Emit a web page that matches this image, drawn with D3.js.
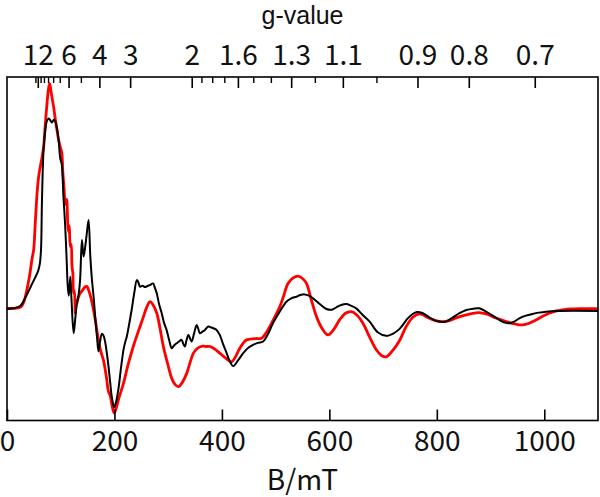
<!DOCTYPE html>
<html><head><meta charset="utf-8">
<script src="https://cdn.jsdelivr.net/npm/d3@7"></script>
<style>
html,body{margin:0;padding:0;background:#fff;}
svg{display:block;}
text{font-family:"Noto Sans CJK KR","Noto Sans",sans-serif;fill:#111;}
</style></head>
<body><svg id="chart" width="600" height="497"></svg>
<script>
// ---- data ----
const xTicks = [0, 200, 400, 600, 800, 1000];
const gMajor = [12, 6, 4, 3, 2, 1.6, 1.3, 1.1, 0.9, 0.8, 0.7];
const gMinor = [13, 11, 10, 9, 8, 7, 5, 1.9, 1.8, 1.7, 1.5, 1.4, 1.2, 1.0];
const gFactor = 687.6; // g * B (mT), microwave frequency ~9.62 GHz

const blackB = [0,15,25,36,45,51,58,61,63.3,65,68,71.3,74,77.5,80,83.7,87,90,93,96,99,102,105,108,111,113,115,117.8,120,124,127,130,133,136,139.5,142.5,145.6,148,151.8,155,158,161,164,167.4,170.3,173,176.6,179.5,182.8,186,189,192,195,199.5,203,207.5,212,216.8,220,223,228,232,237,241.6,244,247.8,252,257,262,266,272,275,278.8,283,288,292,297,302,306.6,311,316,320,325,328,331,334,337.5,341,343.8,348,353,356,359,364,368.5,374.6,379,384,390,396,402,408.8,414,421,430,439.6,448,458,467,476.8,485,495,507,520,529,538.8,546,554,562,569.6,582,594.6,605,613,622,631.6,640,650,662,675,690,706,718,730.7,745,755,763,773,786,797,805,817,830,843,855,868,879,891.7,904,916.4,925,935,944,953.6,966,978,990,1003,1028,1100];
const blackI = [0.00,0.03,0.10,0.40,0.70,0.90,1.15,1.35,1.78,3.19,4.79,5.39,5.65,5.74,5.70,5.62,5.70,5.65,5.45,5.10,4.55,4.35,3.40,2.60,1.50,0.70,0.40,0.97,0.30,-0.73,-0.30,0.17,0.40,0.87,2.08,1.58,1.88,2.20,2.68,1.60,0.90,0.40,-0.20,-0.83,-1.28,-1.00,-0.75,-0.80,-1.00,-1.35,-1.74,-2.20,-2.64,-2.96,-2.80,-2.40,-1.80,-1.23,-1.00,-0.83,-0.40,-0.03,0.50,0.87,0.82,0.67,0.70,0.66,0.70,0.72,0.77,0.65,0.47,0.15,-0.13,-0.40,-0.63,-0.95,-1.18,-1.10,-1.03,-0.98,-0.93,-1.05,-1.13,-0.95,-0.78,-0.90,-0.98,-0.75,-0.48,-0.60,-0.73,-0.68,-0.63,-0.53,-0.55,-0.58,-0.63,-0.78,-1.05,-1.33,-1.55,-1.72,-1.55,-1.33,-1.18,-1.08,-1.02,-0.98,-0.78,-0.43,-0.10,0.22,0.32,0.37,0.42,0.44,0.40,0.32,0.15,0.00,-0.02,0.05,0.12,0.15,0.10,0.02,-0.18,-0.38,-0.70,-0.81,-0.75,-0.60,-0.30,-0.15,-0.09,-0.12,-0.25,-0.35,-0.38,-0.38,-0.25,-0.12,-0.03,0.01,0.02,-0.08,-0.20,-0.33,-0.40,-0.43,-0.38,-0.28,-0.20,-0.15,-0.11,-0.08,-0.06,-0.06];

const redB = [0,15,26,32,36,42,47,49.6,53,56,59,62,65,68.2,71,74.5,77,79.3,82,84.5,86.8,90,93,96,99,102,104,106,108.5,111,113,114.6,116,117.8,119.5,121,122.5,124,125.5,127,128.5,130,133,136,140,145.6,148.8,151.8,156,161,165,170.3,175,179.6,185,189,192,196,199.5,203,208,216.8,225,235,245,254,260,266.3,272,278.8,285,291,299,306.6,313,319,326,334.5,341,347,355,365,371.6,377.8,386,396,407,418,425,432,439.6,446,452,463,473.8,481,489,498,507.8,515,523,532,541.8,550,557.4,566,576,587,597.5,608,619,630,641,651,662.5,675,687.4,697,706,718,730.7,743,755.4,767.8,777,786,798,811,823,836,854.6,867,879,892,904,917,929,945,960,972,984.6,997,1009,1022,1034,1050,1065,1100];
const redI = [0.02,0.02,0.06,0.25,0.50,1.00,1.55,1.78,2.70,3.49,4.00,4.29,4.55,4.89,5.50,6.20,6.60,6.80,6.55,6.30,6.09,5.70,5.39,5.10,4.89,4.70,4.10,3.70,3.15,3.30,2.60,2.33,2.50,1.88,1.95,1.27,1.10,0.47,0.55,-0.13,0.10,0.17,0.35,0.47,0.55,0.67,0.68,0.57,0.35,-0.03,-0.40,-0.95,-1.30,-1.55,-2.05,-2.50,-2.60,-2.95,-3.13,-3.00,-2.70,-2.24,-1.70,-1.13,-0.65,-0.23,0.05,0.22,0.12,-0.13,-0.60,-1.13,-1.65,-2.09,-2.28,-2.34,-2.22,-1.94,-1.60,-1.33,-1.18,-1.12,-1.13,-1.13,-1.20,-1.33,-1.48,-1.59,-1.45,-1.22,-1.03,-0.93,-0.91,-0.89,-0.88,-0.75,-0.53,-0.25,0.07,0.40,0.77,0.93,0.99,0.92,0.77,0.30,-0.23,-0.60,-0.78,-0.62,-0.33,-0.13,-0.08,-0.18,-0.43,-0.85,-1.23,-1.40,-1.44,-1.25,-0.95,-0.53,-0.25,-0.15,-0.20,-0.28,-0.35,-0.38,-0.35,-0.27,-0.18,-0.13,-0.11,-0.15,-0.23,-0.31,-0.38,-0.45,-0.48,-0.43,-0.33,-0.22,-0.13,-0.06,-0.03,0.00,0.01,0.01];

// ---- layout ----
const W = 600, H = 497;
const m = {left: 7, right: 2, top: 77, bottom: 76.5};
const svg = d3.select("#chart");
const x = d3.scaleLinear().domain([0, 1100]).range([m.left, W - m.right]);
const y = d3.scaleLinear().domain([-3.36, 6.99]).range([H - m.bottom, m.top]);
const FS = 28;

// lines
const line = d3.line().x(d => x(d[0])).y(d => y(d[1])).curve(d3.curveCatmullRom.alpha(0.5));
const red = redB.map((b, i) => [b, redI[i]]);
const black = blackB.map((b, i) => [b, blackI[i]]);
const plot = svg.append("g");
plot.append("path").datum(red).attr("d", line).attr("fill", "none").attr("stroke", "#ff0000").attr("stroke-width", 2.8).attr("stroke-linejoin", "round");
plot.append("path").datum(black).attr("d", line).attr("fill", "none").attr("stroke", "#000").attr("stroke-width", 2).attr("stroke-linejoin", "round");

// bottom axis (ticks inward)
const xAxis = d3.axisBottom(x).tickValues(xTicks).tickSize(-11).tickPadding(11).tickFormat(d3.format("d"));
const gx = svg.append("g").attr("transform", `translate(0,${H - m.bottom})`).call(xAxis);
gx.select(".domain").remove();
gx.selectAll(".tick line").attr("stroke", "#000").attr("stroke-width", 1.6);
gx.selectAll(".tick text").style("font-size", FS + "px").attr("fill", "#111");

// top axis: g-values
const gMajB = gMajor.map(g => gFactor / g);
const gMinB = gMinor.map(g => gFactor / g);
const topAxis = d3.axisTop(x).tickValues(gMajB).tickSize(-11).tickPadding(12)
  .tickFormat((d, i) => String(gMajor[i]));
const gt = svg.append("g").attr("transform", `translate(0,${m.top})`).call(topAxis);
gt.select(".domain").remove();
gt.selectAll(".tick line").attr("stroke", "#000").attr("stroke-width", 1.6);
gt.selectAll(".tick text").style("font-size", FS + "px").attr("fill", "#111");
const topMinor = d3.axisTop(x).tickValues(gMinB).tickSize(-6).tickFormat("");
const gtm = svg.append("g").attr("transform", `translate(0,${m.top})`).call(topMinor);
gtm.select(".domain").remove();
gtm.selectAll(".tick line").attr("stroke", "#000").attr("stroke-width", 1.4);

// frame
svg.append("rect").attr("x", m.left).attr("y", m.top)
  .attr("width", W - m.left - m.right).attr("height", H - m.top - m.bottom)
  .attr("fill", "none").attr("stroke", "#000").attr("stroke-width", 1.6);

// titles
svg.append("text").attr("x", (m.left + W - m.right) / 2).attr("y", 24)
  .attr("text-anchor", "middle").style("font-family", "'Liberation Sans', Arial, sans-serif")
  .style("font-size", "25px").text("g-value");
svg.append("text").attr("x", (m.left + W - m.right) / 2).attr("y", 490)
  .attr("text-anchor", "middle").style("font-size", FS + "px").text("B/mT");
</script></body></html>
